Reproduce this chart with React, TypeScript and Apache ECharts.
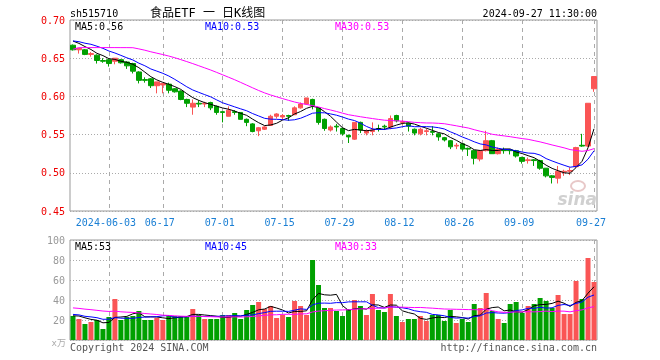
import React, { useEffect, useRef } from 'react';
import * as echarts from 'echarts';

const dates = [
  '2024-05-24', '2024-05-27', '2024-05-28', '2024-05-29', '2024-05-30', '2024-05-31',
  '2024-06-03', '2024-06-04', '2024-06-05', '2024-06-06', '2024-06-07',
  '2024-06-11', '2024-06-12', '2024-06-13', '2024-06-14',
  '2024-06-17', '2024-06-18', '2024-06-19', '2024-06-20', '2024-06-21',
  '2024-06-24', '2024-06-25', '2024-06-26', '2024-06-27', '2024-06-28',
  '2024-07-01', '2024-07-02', '2024-07-03', '2024-07-04', '2024-07-05',
  '2024-07-08', '2024-07-09', '2024-07-10', '2024-07-11', '2024-07-12',
  '2024-07-15', '2024-07-16', '2024-07-17', '2024-07-18', '2024-07-19',
  '2024-07-22', '2024-07-23', '2024-07-24', '2024-07-25', '2024-07-26',
  '2024-07-29', '2024-07-30', '2024-07-31',
  '2024-08-01', '2024-08-02',
  '2024-08-05', '2024-08-06', '2024-08-07', '2024-08-08', '2024-08-09',
  '2024-08-12', '2024-08-13', '2024-08-14', '2024-08-15', '2024-08-16',
  '2024-08-19', '2024-08-20', '2024-08-21', '2024-08-22', '2024-08-23',
  '2024-08-26', '2024-08-27', '2024-08-28', '2024-08-29', '2024-08-30',
  '2024-09-02', '2024-09-03', '2024-09-04', '2024-09-05', '2024-09-06',
  '2024-09-09', '2024-09-10', '2024-09-11', '2024-09-12', '2024-09-13',
  '2024-09-18', '2024-09-19', '2024-09-20',
  '2024-09-23', '2024-09-24', '2024-09-25', '2024-09-26', '2024-09-27',
];

const opens = [
  0.667, 0.661, 0.661, 0.655, 0.654, 0.647, 0.648, 0.646, 0.648, 0.645,
  0.643, 0.632, 0.622, 0.623, 0.614, 0.615, 0.616, 0.610, 0.607, 0.596,
  0.586, 0.591, 0.590, 0.592, 0.587, 0.580, 0.574, 0.580, 0.579, 0.570,
  0.564, 0.555, 0.557, 0.562, 0.574, 0.573, 0.575, 0.576, 0.585, 0.590,
  0.596, 0.585, 0.570, 0.556, 0.561, 0.558, 0.549, 0.544, 0.566, 0.552,
  0.554, 0.558, 0.561, 0.560, 0.575, 0.566, 0.565, 0.557, 0.551, 0.554,
  0.554, 0.551, 0.546, 0.542, 0.535, 0.538, 0.532, 0.529, 0.518, 0.529,
  0.542, 0.525, 0.530, 0.530, 0.529, 0.520, 0.516, 0.517, 0.516, 0.506,
  0.496, 0.493, 0.501, 0.502, 0.508, 0.536, 0.535, 0.610,
];

const closes = [
  0.661, 0.663, 0.655, 0.656, 0.647, 0.646, 0.643, 0.650, 0.644, 0.640,
  0.633, 0.621, 0.621, 0.614, 0.619, 0.617, 0.608, 0.606, 0.596, 0.591,
  0.591, 0.590, 0.591, 0.585, 0.579, 0.579, 0.582, 0.579, 0.570, 0.566,
  0.554, 0.559, 0.560, 0.574, 0.577, 0.575, 0.574, 0.585, 0.590, 0.598,
  0.588, 0.566, 0.558, 0.560, 0.560, 0.551, 0.547, 0.566, 0.556, 0.555,
  0.556, 0.557, 0.560, 0.571, 0.568, 0.567, 0.561, 0.552, 0.557, 0.555,
  0.553, 0.547, 0.543, 0.534, 0.536, 0.531, 0.531, 0.519, 0.529, 0.542,
  0.525, 0.531, 0.529, 0.529, 0.522, 0.515, 0.517, 0.516, 0.506, 0.496,
  0.494, 0.502, 0.502, 0.503, 0.533, 0.535, 0.591, 0.626,
];

const lows = [
  0.660, 0.656, 0.654, 0.652, 0.643, 0.644, 0.639, 0.642, 0.643, 0.636,
  0.630, 0.617, 0.618, 0.611, 0.604, 0.604, 0.604, 0.605, 0.595, 0.586,
  0.576, 0.586, 0.586, 0.582, 0.576, 0.566, 0.574, 0.576, 0.570, 0.561,
  0.553, 0.548, 0.556, 0.562, 0.571, 0.569, 0.568, 0.576, 0.584, 0.589,
  0.583, 0.563, 0.555, 0.554, 0.554, 0.549, 0.539, 0.543, 0.552, 0.549,
  0.549, 0.554, 0.556, 0.557, 0.566, 0.563, 0.554, 0.549, 0.549, 0.549,
  0.549, 0.542, 0.541, 0.531, 0.531, 0.529, 0.522, 0.511, 0.515, 0.528,
  0.525, 0.524, 0.525, 0.524, 0.520, 0.512, 0.512, 0.509, 0.504, 0.494,
  0.486, 0.486, 0.496, 0.497, 0.507, 0.534, 0.534, 0.606,
];

const highs = [
  0.668, 0.663, 0.662, 0.658, 0.655, 0.650, 0.649, 0.650, 0.649, 0.646,
  0.644, 0.633, 0.625, 0.624, 0.619, 0.617, 0.618, 0.611, 0.608, 0.597,
  0.596, 0.595, 0.593, 0.593, 0.588, 0.580, 0.587, 0.582, 0.579, 0.571,
  0.565, 0.560, 0.561, 0.576, 0.578, 0.577, 0.576, 0.587, 0.592, 0.598,
  0.597, 0.586, 0.571, 0.562, 0.564, 0.559, 0.550, 0.566, 0.567, 0.557,
  0.566, 0.563, 0.563, 0.575, 0.576, 0.569, 0.566, 0.558, 0.559, 0.558,
  0.561, 0.552, 0.547, 0.543, 0.539, 0.539, 0.533, 0.530, 0.529, 0.555,
  0.543, 0.533, 0.533, 0.531, 0.530, 0.521, 0.520, 0.518, 0.517, 0.506,
  0.497, 0.509, 0.504, 0.507, 0.534, 0.551, 0.591, 0.626,
];

const volumes = [
  24, 21, 16, 18, 20, 11, 23, 41, 20, 23,
  24, 29, 20, 20, 22, 20, 25, 24, 24, 24,
  31, 25, 21, 21, 21, 25, 25, 27, 21, 30,
  35, 38, 31, 34, 22, 25, 23, 39, 34, 25,
  80, 55, 32, 32, 29, 24, 31, 40, 34, 25,
  46, 30, 28, 46, 24, 18, 21, 21, 24, 19,
  25, 25, 19, 30, 17, 21, 18, 36, 32, 47,
  29, 21, 17, 36, 38, 27, 34, 36, 42, 39,
  32, 45, 26, 26, 59, 41, 82, 58,
];

// closes / volumes of the 29 sessions before the visible window (only feed the moving averages)
const priorCloses = [
  0.600, 0.652, 0.655, 0.648, 0.645, 0.644, 0.650, 0.645, 0.640, 0.636,
  0.668, 0.672, 0.676, 0.674, 0.670, 0.668, 0.672, 0.670, 0.668, 0.671,
  0.673, 0.675, 0.670, 0.672, 0.674, 0.678, 0.676, 0.675, 0.672,
];
const priorVolumes = [
  36, 38, 34, 40, 32, 36, 31, 40, 34, 32,
  42, 39, 35, 37, 40, 33, 36, 34, 30, 28,
  26, 30, 24, 28, 27, 22, 25, 26, 24,
];

const tickDates = ['2024-06-03', '2024-06-17', '2024-07-01', '2024-07-15', '2024-07-29', '2024-08-12', '2024-08-26', '2024-09-09', '2024-09-27'];
const tickLabels = ['2024-06-03', '06-17', '07-01', '07-15', '07-29', '08-12', '08-26', '09-09', '09-27'];

const RED = '#fa5555';
const GREEN = '#00a000';
const MONO = "'DejaVu Sans Mono', 'Liberation Mono', monospace";

function movingAverage(prior: number[], values: number[], n: number): number[] {
  const all = prior.concat(values);
  const off = prior.length;
  return values.map((_, i) => {
    let s = 0;
    for (let k = 0; k < n; k++) s += all[off + i - k];
    return s / n;
  });
}

export default function App() {
  const ref = useRef<HTMLDivElement>(null);

  useEffect(() => {
    if (!ref.current) return;
    const chart = echarts.init(ref.current, undefined, { renderer: 'svg' });

    const candles = dates.map((_, i) => [opens[i], closes[i], lows[i], highs[i]]);
    const ma5 = movingAverage(priorCloses, closes, 5);
    const ma10 = movingAverage(priorCloses, closes, 10);
    const ma30 = movingAverage(priorCloses, closes, 30);
    const vma5 = movingAverage(priorVolumes, volumes, 5);
    const vma10 = movingAverage(priorVolumes, volumes, 10);
    const vma30 = movingAverage(priorVolumes, volumes, 30);
    const last = dates.length - 1;
    const volBars = volumes.map((v, i) => ({
      value: v,
      itemStyle: { color: closes[i] >= opens[i] ? RED : GREEN },
    }));

    const tickSet = new Set(tickDates);
    const isTick = (_i: number, v: string) => tickSet.has(v);

    const splitX = {
      show: true,
      interval: isTick,
      alignWithLabel: true,
      lineStyle: { color: '#aaa', type: [4, 4], width: 1 },
    };

    const txt = (x: number, y: number, text: string, fill: string, align = 'left', size = 10, family = MONO) => ({
      type: 'text',
      x,
      y,
      silent: true,
      z: 100,
      style: {
        text,
        fill,
        fontSize: size,
        fontFamily: family,
        align,
        verticalAlign: 'middle',
        textAlign: align,
        textVerticalAlign: 'middle',
      },
    });

    const lineSeries = (name: string, data: number[], color: string, idx: number) => ({
      name,
      type: 'line',
      data,
      xAxisIndex: idx,
      yAxisIndex: idx,
      showSymbol: false,
      symbol: 'none',
      silent: true,
      lineStyle: { color, width: 1 },
      z: 5,
    });

    chart.setOption({
      animation: false,
      grid: [
        { left: 70, top: 20, width: 527, height: 191, show: true, borderColor: '#999', borderWidth: 1 },
        { left: 70, top: 240, width: 527, height: 100, show: true, borderColor: '#999', borderWidth: 1 },
      ],
      xAxis: [
        {
          type: 'category',
          gridIndex: 0,
          data: dates,
          boundaryGap: true,
          axisLine: { show: false },
          axisTick: { show: false },
          axisLabel: {
            interval: isTick,
            formatter: (v: string) => tickLabels[tickDates.indexOf(v)] ?? '',
            color: '#1a7fd4',
            fontFamily: MONO,
            fontSize: 10,
            margin: 6,
            padding: [0, 6, 0, 0],
          },
          splitLine: splitX,
        },
        {
          type: 'category',
          gridIndex: 1,
          data: dates,
          boundaryGap: true,
          axisLine: { show: false },
          axisTick: { show: false },
          axisLabel: { show: false },
          splitLine: splitX,
        },
      ],
      yAxis: [
        {
          type: 'value',
          gridIndex: 0,
          min: 0.45,
          max: 0.7,
          interval: 0.05,
          axisLine: { show: false },
          axisTick: { show: false },
          axisLabel: {
            formatter: (v: number) => v.toFixed(2),
            color: '#ee0000',
            fontFamily: MONO,
            fontSize: 10,
            margin: 5,
          },
          splitLine: { show: true, lineStyle: { color: '#aaa', type: [1, 2] } },
        },
        {
          type: 'value',
          gridIndex: 1,
          min: 0,
          max: 100,
          interval: 20,
          axisLine: { show: false },
          axisTick: { show: false },
          axisLabel: {
            formatter: (v: number) => (v === 0 ? '' : String(v)),
            color: '#999',
            fontFamily: MONO,
            fontSize: 10,
            margin: 5,
          },
          splitLine: { show: true, lineStyle: { color: '#aaa', type: [1, 2] } },
        },
      ],
      series: [
        {
          name: 'K',
          type: 'candlestick',
          data: candles,
          xAxisIndex: 0,
          yAxisIndex: 0,
          barWidth: 5,
          silent: true,
          itemStyle: {
            color: RED,
            color0: GREEN,
            borderColor: RED,
            borderColor0: GREEN,
            borderWidth: 1,
          },
        },
        lineSeries('MA5', ma5, '#000000', 0),
        lineSeries('MA10', ma10, '#0000ff', 0),
        lineSeries('MA30', ma30, '#ff00ff', 0),
        {
          name: 'VOL',
          type: 'bar',
          data: volBars,
          xAxisIndex: 1,
          yAxisIndex: 1,
          barWidth: 5,
          silent: true,
        },
        lineSeries('VMA5', vma5, '#000000', 1),
        lineSeries('VMA10', vma10, '#0000ff', 1),
        lineSeries('VMA30', vma30, '#ff00ff', 1),
      ],
      graphic: [
        txt(70, 13, 'sh515710', '#000'),
        txt(150, 13, '食品ETF 一 日K线图', '#000', 'left', 12, "'DejaVu Sans Mono', 'Noto Sans CJK SC', monospace"),
        txt(597, 13, '2024-09-27 11:30:00', '#000', 'right'),
        txt(75, 26, 'MA5:' + ma5[last].toFixed(2), '#000'),
        txt(205, 26, 'MA10:' + ma10[last].toFixed(2), '#0000ff'),
        txt(335, 26, 'MA30:' + ma30[last].toFixed(2), '#ff00ff'),
        txt(75, 246, 'MA5:' + Math.floor(vma5[last]), '#000'),
        txt(205, 246, 'MA10:' + Math.floor(vma10[last]), '#0000ff'),
        txt(335, 246, 'MA30:' + Math.floor(vma30[last]), '#ff00ff'),
        txt(66, 343, 'x万', '#aaa', 'right', 9, "'DejaVu Sans Mono', 'Noto Sans CJK SC', monospace"),
        txt(70, 347, 'Copyright 2024 SINA.COM', '#555'),
        txt(597, 347, 'http://finance.sina.com.cn', '#555', 'right'),
        {
          type: 'ellipse',
          shape: { cx: 578, cy: 186, rx: 7, ry: 5 },
          silent: true,
          z: 1,
          style: { fill: 'none', stroke: '#e8c8c8', lineWidth: 2 },
        },
        {
          type: 'text',
          x: 597,
          y: 199,
          silent: true,
          z: 1,
          style: {
            text: 'sina',
            fill: '#d0d0d0',
            fontSize: 17,
            fontStyle: 'italic',
            fontWeight: 'bold',
            fontFamily: "'DejaVu Sans', sans-serif",
            align: 'right',
            verticalAlign: 'middle',
            textAlign: 'right',
            textVerticalAlign: 'middle',
          },
        },
      ],
    });

    return () => chart.dispose();
  }, []);

  return <div ref={ref} style={{ position: 'fixed', left: 0, top: 0, width: 660, height: 360 }} />;
}
